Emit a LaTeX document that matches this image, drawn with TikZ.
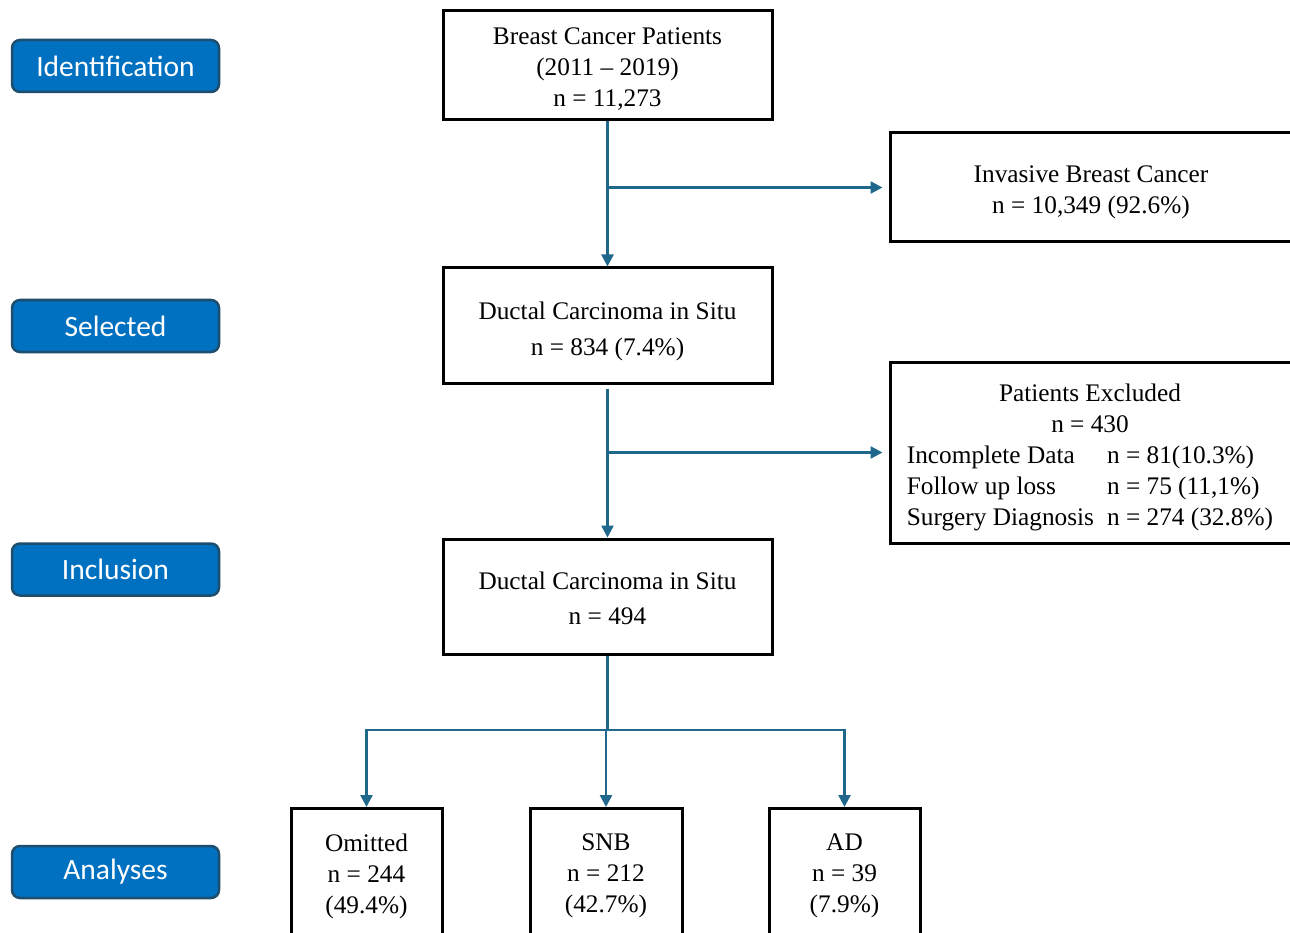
\documentclass[tikz,border=0pt]{standalone}
\usepackage{fontspec}
\setmainfont{Liberation Serif}
\newfontfamily\stagefont{Carlito}
\usetikzlibrary{arrows.meta}
\definecolor{connc}{RGB}{31,104,140}
\definecolor{stagefill}{RGB}{0,112,192}
\definecolor{stageedge}{RGB}{30,78,110}
\begin{document}
\begin{tikzpicture}[x=1pt,y=-1pt,
  box/.style={draw=black,line width=3pt,fill=white,inner sep=0pt},
  txt/.style={inner sep=0pt,align=center,font=\fontsize{25.3}{31}\selectfont},
  stagebox/.style={draw=stageedge,line width=2.5pt,fill=stagefill,rounded corners=8pt,minimum width=207pt,minimum height=52pt,inner sep=0pt,text=white,font=\stagefont\fontsize{29.5}{34}\selectfont},
  conn/.style={draw=connc,line width=2.5pt,-{Triangle[length=12pt,width=12pt]}},
  plain/.style={draw=connc,line width=2.5pt}]
\useasboundingbox (0,0) rectangle (1290,933);
\clip (0,0) rectangle (1290,933);
\fill[white] (0,0) rectangle (1290,933);

% stage labels
\node[stagebox] (s1) at (115.5,66) {Identification};
\node[stagebox] (s2) at (115.5,326) {Selected};
\node[stagebox] (s3) at (115.5,569.5) {Inclusion};
\node[stagebox] (s4) at (115.5,872) {Analyses};

% main boxes
\node[box,minimum width=329pt,minimum height=109pt] (b1) at (607.5,65.5) {};
\node[box,minimum width=329pt,minimum height=115pt] (b2) at (607.5,325.5) {};
\node[box,minimum width=329pt,minimum height=115pt] (b3) at (607.5,596.5) {};
\node[txt] (tb1) at (607.5,69.5) {Breast Cancer Patients\\(2011 -- 2019)\\n = 11,273};
\node[txt] (tb2) at (607.5,331) {Ductal Carcinoma in Situ\\[5pt]n = 834 (7.4\%)};
\node[txt] (tb3) at (607.5,598.5) {Ductal Carcinoma in Situ\\[4pt]n = 494};

% side boxes
\node[box,minimum width=402pt,minimum height=109pt] (r1) at (1091,187.5) {};
\node[box,minimum width=402pt,minimum height=181pt] (r2) at (1091,452.5) {};
\node[txt] (tr1) at (1091,192) {Invasive Breast Cancer\\n = 10,349 (92.6\%)};
\node[txt] (tr2) at (1090,457) {\begin{tabular}{@{}l@{\hspace{13pt}}l@{}}\multicolumn{2}{c}{Patients Excluded}\\ \multicolumn{2}{c}{n = 430}\\ Incomplete Data & n = 81(10.3\%)\\ Follow up loss & n = 75 (11,1\%)\\ Surgery Diagnosis & n = 274 (32.8\%)\end{tabular}};

% bottom boxes
\node[box,minimum width=151pt,minimum height=160pt,anchor=north] (om) at (366.5,807) {};
\node[box,minimum width=152pt,minimum height=160pt,anchor=north] (snb) at (606,807) {};
\node[box,minimum width=151pt,minimum height=160pt,anchor=north] (ad) at (844.5,807) {};
\node[txt] (tom) at (366.5,876) {Omitted\\n = 244\\(49.4\%)};
\node[txt] (tsnb) at (606,876) {SNB\\n = 212\\(42.7\%)};
\node[txt] (tad) at (844.5,876) {AD\\n = 39\\(7.9\%)};

% connectors
\draw[conn] (b1.south) -- (b2.north);
\coordinate (j1) at (b1.south |- r1.west);
\draw[conn,shorten >=6pt] (j1) -- (r1.west);
\draw[conn] ([yshift=-4pt]b2.south) -- (b3.north);
\coordinate (j2) at (b2.south |- r2.west);
\draw[conn,shorten >=6pt] (j2) -- (r2.west);
\coordinate (j3) at (607.5,730);
\draw[plain] (b3.south) -- (j3);
\draw[conn] (j3) -| (om.north);
\draw[conn] (j3) -| (ad.north);
\draw[conn] (j3) -- (j3 -| snb.north) -- (snb.north);
\end{tikzpicture}
\end{document}
